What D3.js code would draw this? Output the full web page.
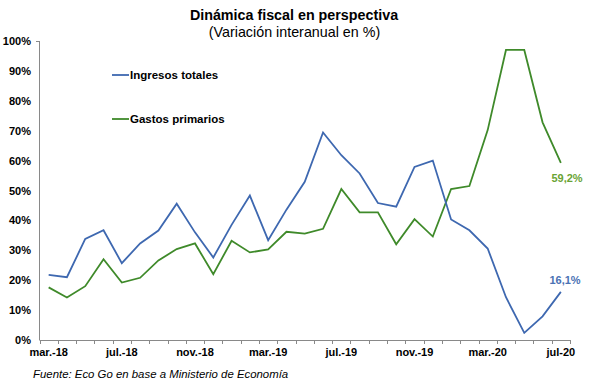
<!DOCTYPE html>
<html lang="es">
<head>
<meta charset="UTF-8">
<title>Dinámica fiscal en perspectiva</title>
<script src="https://d3js.org/d3.v7.min.js"></script>
<style>
  body { margin: 0; background: #fff; font-family: "Liberation Sans", Arial, sans-serif; }
</style>
</head>
<body>
<div id="chart"></div>
<script>
// months mar-18 .. jul-20
const months = ["mar-18","abr-18","may-18","jun-18","jul-18","ago-18","sep-18","oct-18","nov-18","dic-18",
  "ene-19","feb-19","mar-19","abr-19","may-19","jun-19","jul-19","ago-19","sep-19","oct-19","nov-19","dic-19",
  "ene-20","feb-20","mar-20","abr-20","may-20","jun-20","jul-20"];
const tickMonths = {"mar-18":"mar.-18","jul-18":"jul.-18","nov-18":"nov.-18","mar-19":"mar.-19",
  "jul-19":"jul.-19","nov-19":"nov.-19","mar-20":"mar.-20","jul-20":"jul-20"};

const ingresos = [21.8, 21.0, 33.8, 36.7, 25.7, 32.3, 36.6, 45.6, 36.0, 27.6,
  38.5, 48.3, 33.4, 43.6, 52.9, 69.4, 61.8, 55.7, 45.8, 44.6, 57.9, 60.0,
  40.3, 36.7, 30.6, 14.3, 2.4, 7.9, 16.1];
const gastos = [17.6, 14.2, 18.0, 27.0, 19.2, 20.8, 26.6, 30.4, 32.3, 22.0,
  33.2, 29.3, 30.3, 36.2, 35.6, 37.2, 50.5, 42.7, 42.7, 32.0, 40.4, 34.6,
  50.5, 51.5, 70.2, 97.0, 97.0, 72.8, 59.2];

const width = 589, height = 385;
const svg = d3.select("#chart").append("svg")
  .attr("width", width).attr("height", height);

const x = d3.scaleBand().domain(months).range([39.5, 570]);
const y = d3.scaleLinear().domain([0, 100]).range([340, 41]);
const cx = d => x(d) + x.bandwidth() / 2;

// title
svg.append("text").attr("x", 294).attr("y", 20).attr("text-anchor", "middle")
  .attr("font-size", 14.3).attr("font-weight", "bold").text("Dinámica fiscal en perspectiva");
svg.append("text").attr("x", 294.5).attr("y", 37).attr("text-anchor", "middle")
  .attr("font-size", 14.3).text("(Variación interanual en %)");

// y axis
svg.append("line").attr("x1", 39.5).attr("x2", 39.5).attr("y1", y(100)).attr("y2", y(0))
  .attr("stroke", "#898989");
svg.append("line").attr("x1", 36).attr("x2", 39.5).attr("y1", y(100) + 0.5).attr("y2", y(100) + 0.5)
  .attr("stroke", "#898989");
svg.selectAll(".ylab").data(d3.range(0, 101, 10)).join("text")
  .attr("x", 31).attr("y", d => y(d) + 4).attr("text-anchor", "end")
  .attr("font-size", 11).attr("font-weight", "bold").text(d => d + "%");

// x axis
svg.append("line").attr("x1", 39.5).attr("x2", 570).attr("y1", 340.5).attr("y2", 340.5)
  .attr("stroke", "#898989");
const bounds = months.map(m => x(m)).concat([x.range()[1]]);
svg.selectAll(".xtick").data(bounds).join("line")
  .attr("x1", d => Math.round(d) + 0.5).attr("x2", d => Math.round(d) + 0.5)
  .attr("y1", 340).attr("y2", 344).attr("stroke", "#898989");
svg.selectAll(".xlab").data(months.filter(m => tickMonths[m])).join("text")
  .attr("x", d => cx(d)).attr("y", 356).attr("text-anchor", "middle")
  .attr("font-size", 11).attr("font-weight", "bold").text(d => tickMonths[d]);

// lines
const line = d3.line().x((d, i) => cx(months[i])).y(d => y(d));
svg.append("path").datum(gastos).attr("d", line).attr("fill", "none")
  .attr("stroke", "#3F8A2A").attr("stroke-width", 1.8);
svg.append("path").datum(ingresos).attr("d", line).attr("fill", "none")
  .attr("stroke", "#3E68B0").attr("stroke-width", 1.8);

// end labels
svg.append("text").attr("x", 567).attr("y", 182).attr("text-anchor", "middle")
  .attr("font-size", 11).attr("font-weight", "bold").attr("fill", "#6AA334").text("59,2%");
svg.append("text").attr("x", 565).attr("y", 284).attr("text-anchor", "middle")
  .attr("font-size", 11).attr("font-weight", "bold").attr("fill", "#4A72B4").text("16,1%");

// legend
const legend = [["Ingresos totales", "#3E68B0", 75], ["Gastos primarios", "#3F8A2A", 119]];
legend.forEach(([label, color, ly]) => {
  svg.append("line").attr("x1", 112).attr("x2", 129).attr("y1", ly).attr("y2", ly)
    .attr("stroke", color).attr("stroke-width", 1.8);
  svg.append("text").attr("x", 130).attr("y", ly + 4).attr("font-size", 11.5)
    .attr("font-weight", "bold").text(label);
});

// source
svg.append("text").attr("x", 33).attr("y", 378).attr("font-size", 11.4)
  .attr("font-style", "italic").text("Fuente: Eco Go en base a Ministerio de Economía");
</script>
</body>
</html>
